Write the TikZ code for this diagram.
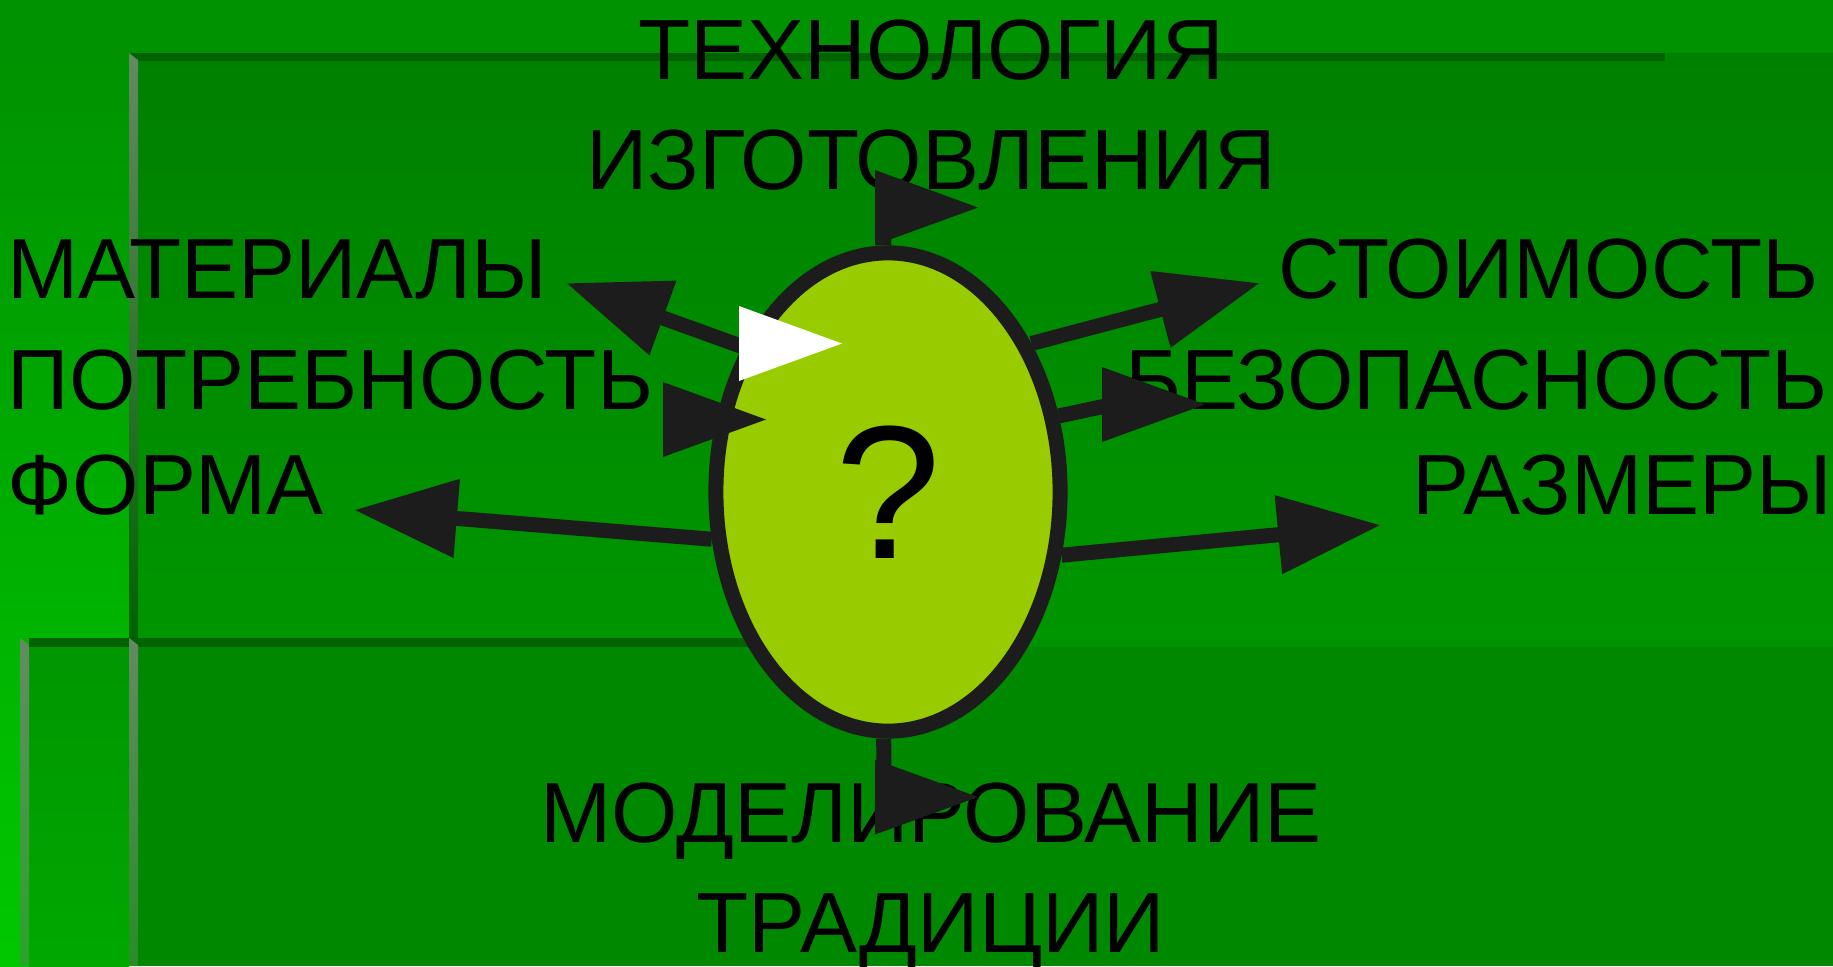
\documentclass[tikz,border=0pt]{standalone}
\usepackage{fontspec}
\setmainfont{Liberation Sans}
\usetikzlibrary{shapes.geometric,arrows.meta}

\definecolor{bgtop}{RGB}{0,146,0}
\definecolor{bgmain}{RGB}{0,136,0}
\definecolor{bgdark}{RGB}{0,98,0}
\definecolor{edge}{RGB}{100,138,100}
\definecolor{ink}{RGB}{28,28,28}
\definecolor{lime}{RGB}{153,204,0}

\tikzset{
  lbl/.style={inner sep=0pt, font=\fontsize{24.3}{29}\selectfont},
  bubble/.style={ellipse, draw=ink, fill=lime, line width=0.15cm, inner sep=0pt,
    minimum width=3.44cm, minimum height=4.78cm, font=\fontsize{54}{60}\selectfont},
  ln/.style={draw=ink, line width=0.15cm},
  arr/.style={ln, -{Triangle[length=1.03cm,width=0.75cm]}},
  pics/tiphead/.style={code={\fill[#1] (0,-37.5) -- (103,0) -- (0,37.5) -- cycle;}}
}

\begin{document}
\begin{tikzpicture}[x=0.01cm, y=-0.01cm]
\useasboundingbox (0,0) rectangle (1833,966);

% background
\fill[bgtop] (0,0) rectangle (1833,966);
\shade[top color=bgtop, bottom color={rgb,255:red,0;green,200;blue,0}] (0,53) rectangle (129,966);
\shade[top color={rgb,255:red,0;green,150;blue,0}, bottom color={rgb,255:red,0;green,168;blue,0}] (29,638) rectangle (129,966);
\shade[top color={rgb,255:red,0;green,128;blue,0}, bottom color={rgb,255:red,0;green,150;blue,0}] (138,53) rectangle (1833,638);
\fill[bgmain] (138,647) rectangle (1833,966);
\fill[bgdark] (129,53) rectangle (1665,61);
\fill[bgdark] (29,638) rectangle (888,647);
\shade[top color=edge, bottom color=bgdark] (129,53) -- (138,60) -- (138,638) -- (129,638) -- cycle;
\shade[top color=edge, bottom color={rgb,255:red,40;green,140;blue,40}] (129,638) -- (138,645) -- (138,966) -- (129,966) -- cycle;
\shade[top color=edge, bottom color={rgb,255:red,40;green,165;blue,40}] (20,638) -- (29,645) -- (29,966) -- (20,966) -- cycle;

% labels
\node[lbl, anchor=base] (tech) at (931,79) {ТЕХНОЛОГИЯ};
\node[lbl, anchor=base] (izg) at (931,189) {ИЗГОТОВЛЕНИЯ};
\node[lbl, anchor=base west] (mat) at (7,298) {МАТЕРИАЛЫ};
\node[lbl, anchor=base west] (potr) at (7,409) {ПОТРЕБНОСТЬ};
\node[lbl, anchor=base west] (form) at (7,514) {ФОРМА};
\node[lbl, anchor=base east] (cost) at (1819,298) {СТОИМОСТЬ};
\node[lbl, anchor=base east] (safe) at (1828,409) {БЕЗОПАСНОСТЬ};
\node[lbl, anchor=base east] (size) at (1833,514) {РАЗМЕРЫ};
\node[lbl, anchor=base] (model) at (931,842) {МОДЕЛИРОВАНИЕ};
\node[lbl, anchor=base] (trad) at (931,952) {ТРАДИЦИИ};

% the question
\node[bubble] (q) at (888,492) {?};

% arrows
\coordinate (topE) at (884,208);
\coordinate (matE) at (566,283);
\coordinate (potE) at (680,420);
\coordinate (formE) at (354,510);
\coordinate (costE) at (1260,283);
\coordinate (safeE) at (1115,404);
\coordinate (sizeE) at (1381,525);
\coordinate (botE) at (884,790);
\draw[ln] (q.91) -- (topE);
\draw[arr] (q.135) -- (matE);
\draw[ln] (q.157) -- (potE);
\draw[arr] (q.195) -- (formE);
\draw[arr] (q.46) -- (costE);
\draw[ln] (q.24) -- (safeE);
\draw[arr] (q.340) -- (sizeE);
\draw[ln] (q.269) -- (botE);
\pic at (875,207.5) {tiphead=ink};
\pic at (663,419.5) {tiphead=ink};
\pic at (1102,404.5) {tiphead=ink};
\pic at (875,797) {tiphead=ink};
\pic at (739,343.5) {tiphead=white};
\end{tikzpicture}
\end{document}
